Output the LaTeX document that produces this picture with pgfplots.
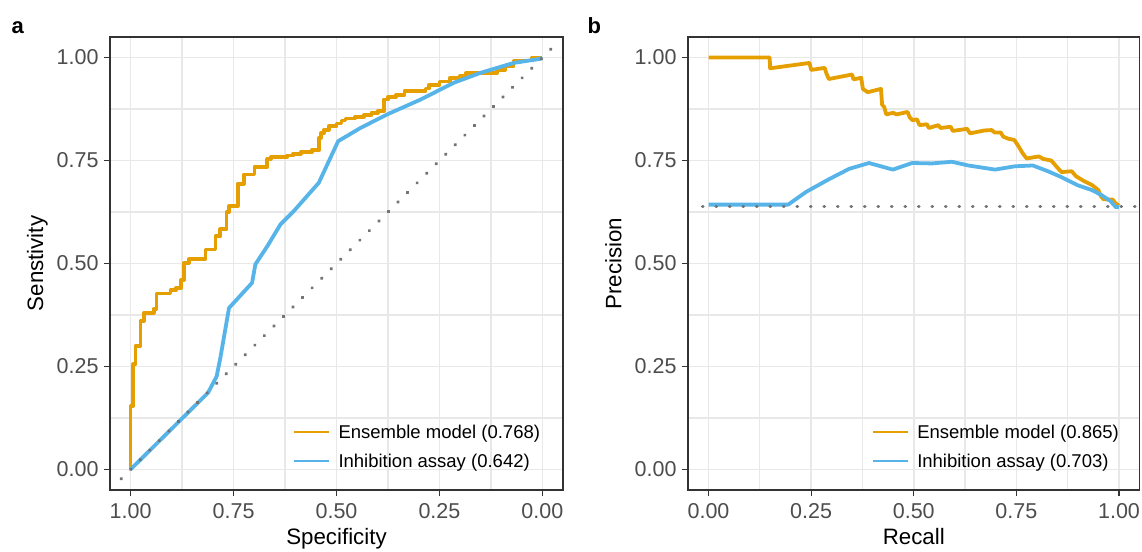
\documentclass[border=0pt]{standalone}
\usepackage{fontspec}
\setmainfont{Liberation Sans}
\usepackage{pgfplots}
\pgfplotsset{compat=1.18}
\definecolor{ens}{HTML}{E69F00}
\definecolor{inh}{HTML}{56B4E9}
\definecolor{tickgray}{HTML}{4D4D4D}
\definecolor{framec}{HTML}{333333}
\definecolor{gridc}{HTML}{E8E8E8}
\definecolor{dotc}{HTML}{737373}
\newcommand\tickfont{\fontsize{21.5}{21.5}\selectfont}
\newcommand\labfont{\fontsize{22.3}{22.3}\selectfont}
\newcommand\legfont{\fontsize{18.5}{18.5}\selectfont}
\pgfplotsset{
 panel/.style={
  scale only axis, height=453pt,
  ymin=-0.05, ymax=1.05,
  xtick={0,0.25,0.5,0.75,1}, ytick={0,0.25,0.5,0.75,1},
  minor xtick={0.125,0.375,0.625,0.875}, minor ytick={0.125,0.375,0.625,0.875},
  xticklabels={0.00,0.25,0.50,0.75,1.00}, yticklabels={0.00,0.25,0.50,0.75,1.00},
  grid=both,
  major grid style={draw=gridc, line width=1.7pt},
  minor grid style={draw=gridc, line width=1.2pt},
  axis line style={draw=framec, line width=1.2pt},
  tick align=outside, major tick length=6pt, minor tick length=0pt,
  every tick/.style={draw=framec, line width=1.2pt},
  xtick pos=lower, ytick pos=left,
  tick label style={font=\tickfont, text=tickgray, inner sep=0pt},
  xticklabel shift=7pt, yticklabel shift=5.3pt,
  label style={font=\labfont, text=black},
  xlabel style={at={(axis description cs:0.5,-0.1214)}, anchor=base},
  ylabel style={at={(axis description cs:-0.1475,0.5)}, anchor=base},
  legend style={draw=none, fill=none, inner sep=0pt, outer sep=0pt, font=\legfont,
    row sep=11.9pt, column sep=8.5pt,
    nodes={inner sep=0pt, text height=13.5pt, text depth=4pt},
    cells={anchor=base west},
    at={(axis description cs:0.404,0.144)}, anchor=north west},
  legend image code/.code={\draw[##1, line width=2pt] (0pt,6.7pt) -- (35pt,6.7pt);},
 },
 curve/.style={line width=3.8pt, line join=round},
 dots/.style={draw=dotc, line width=3.2pt, line cap=round, dash pattern=on 0.6pt off 12.9pt},
}
\begin{document}
\begin{tikzpicture}
\useasboundingbox (0,0) rectangle (1142pt,551pt);
\node[anchor=base west, inner sep=0pt, font=\fontsize{22}{22}\selectfont\bfseries] at (11.5pt,517.7pt) {a};
\node[anchor=base west, inner sep=0pt, font=\fontsize{22}{22}\selectfont\bfseries] at (587.5pt,517.7pt) {b};
\begin{axis}[panel, width=453pt, at={(110pt,61pt)}, anchor=south west,
  xmin=-0.05, xmax=1.05, x dir=reverse,
  xlabel={Specificity}, ylabel={Senstivity}]
\addplot[curve, draw=ens] coordinates {
(1,0) (1,0.154) (0.994,0.154) (0.994,0.255) (0.988,0.255) (0.988,0.300) (0.976,0.300) (0.976,0.360)
(0.968,0.360) (0.968,0.380) (0.944,0.380) (0.944,0.390) (0.937,0.390) (0.937,0.427) (0.903,0.427)
(0.903,0.435) (0.890,0.435) (0.890,0.440) (0.877,0.440) (0.877,0.460) (0.870,0.460) (0.870,0.502)
(0.858,0.502) (0.858,0.511) (0.818,0.511) (0.818,0.534) (0.794,0.534) (0.794,0.566) (0.782,0.566)
(0.782,0.583) (0.767,0.583) (0.767,0.625) (0.761,0.625) (0.761,0.639) (0.740,0.639) (0.740,0.694)
(0.725,0.694) (0.725,0.716) (0.699,0.716) (0.699,0.735) (0.668,0.735) (0.668,0.754) (0.660,0.754)
(0.660,0.758) (0.620,0.758) (0.620,0.762) (0.605,0.762) (0.605,0.766) (0.587,0.766) (0.587,0.770)
(0.560,0.770) (0.560,0.775) (0.543,0.775) (0.543,0.805) (0.538,0.805) (0.538,0.817) (0.530,0.817)
(0.530,0.825) (0.519,0.825) (0.519,0.833) (0.500,0.833) (0.500,0.840) (0.488,0.840) (0.488,0.847)
(0.478,0.847) (0.478,0.852) (0.455,0.852) (0.455,0.856) (0.434,0.856) (0.434,0.860) (0.415,0.860)
(0.415,0.866) (0.400,0.866) (0.400,0.870) (0.385,0.870) (0.385,0.898) (0.375,0.898) (0.375,0.905)
(0.355,0.905) (0.355,0.910) (0.335,0.910) (0.335,0.918) (0.284,0.918) (0.284,0.925) (0.275,0.925)
(0.275,0.934) (0.250,0.934) (0.250,0.942) (0.225,0.942) (0.225,0.951) (0.200,0.951) (0.200,0.956)
(0.185,0.956) (0.185,0.963) (0.110,0.963) (0.110,0.970) (0.090,0.970) (0.090,0.979) (0.070,0.979)
(0.070,0.993) (0.025,0.993) (0.025,1.000) (0,1.000)};
\addlegendentry{Ensemble model (0.768)}
\addplot[curve, draw=inh] coordinates {
(1,0) (0.812,0.186) (0.791,0.226) (0.782,0.271) (0.761,0.392) (0.705,0.453) (0.697,0.498)
(0.668,0.542) (0.636,0.595) (0.604,0.627) (0.543,0.696) (0.496,0.797) (0.442,0.829) (0.377,0.862)
(0.296,0.898) (0.215,0.939) (0.150,0.963) (0.070,0.987) (0.005,0.997) (0,1)};
\addlegendentry{Inhibition assay (0.642)}
\addplot[dots, forget plot] coordinates {(1.0233,-0.0233) (-0.03,1.03)};
\end{axis}
\begin{axis}[panel, width=451.5pt, at={(688pt,61pt)}, anchor=south west,
  xmin=-0.05, xmax=1.05,
  xlabel={Recall}, ylabel={Precision},
  legend style={at={(axis description cs:0.407,0.144)}}]
\addplot[curve, draw=ens] coordinates {
(0,1) (0.149,1) (0.150,0.974) (0.246,0.987) (0.250,0.970) (0.283,0.975) (0.287,0.962) (0.293,0.948)
(0.335,0.956) (0.350,0.959) (0.353,0.947) (0.372,0.951) (0.376,0.924) (0.388,0.916) (0.420,0.924)
(0.423,0.885) (0.428,0.880) (0.433,0.862) (0.450,0.866) (0.458,0.862) (0.485,0.868) (0.490,0.855)
(0.497,0.848) (0.508,0.850) (0.514,0.836) (0.532,0.838) (0.537,0.829) (0.560,0.836) (0.565,0.829)
(0.590,0.832) (0.595,0.822) (0.630,0.827) (0.637,0.816) (0.672,0.823) (0.690,0.824) (0.697,0.818)
(0.712,0.818) (0.718,0.808) (0.730,0.803) (0.745,0.800) (0.755,0.785) (0.765,0.768) (0.775,0.755)
(0.805,0.760) (0.815,0.754) (0.835,0.750) (0.848,0.735) (0.860,0.722) (0.885,0.724) (0.895,0.712)
(0.915,0.700) (0.935,0.690) (0.950,0.678) (0.955,0.665) (0.962,0.656) (0.985,0.655) (0.990,0.648)
(1.0,0.640)};
\addlegendentry{Ensemble model (0.865)}
\addplot[curve, draw=inh] coordinates {
(0,0.643) (0.194,0.643) (0.238,0.674) (0.294,0.705) (0.343,0.730) (0.391,0.744) (0.449,0.728)
(0.496,0.744) (0.544,0.743) (0.593,0.747) (0.633,0.738) (0.698,0.728) (0.746,0.736) (0.790,0.738)
(0.827,0.724) (0.859,0.710) (0.899,0.690) (0.932,0.679) (0.956,0.667) (0.980,0.651) (0.992,0.637)
(1.0,0.637)};
\addlegendentry{Inhibition assay (0.703)}
\addplot[dots, forget plot] coordinates {(1.0393,0.638) (-0.035,0.638)};
\end{axis}
\end{tikzpicture}
\end{document}
